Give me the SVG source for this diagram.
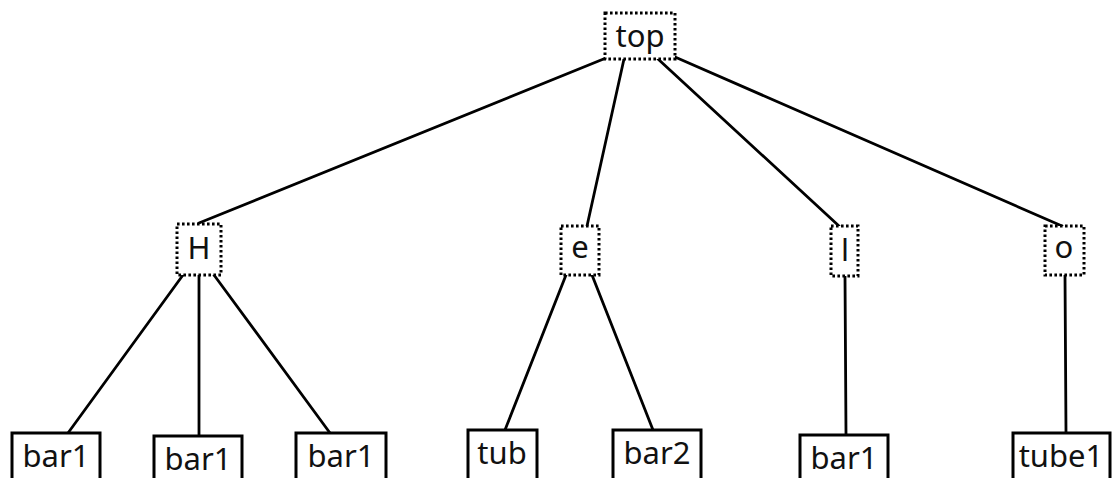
<svg xmlns="http://www.w3.org/2000/svg" width="1113" height="478" viewBox="0 0 1113 478">
  <style>
    .inner { fill: #fff; stroke: #000; stroke-width: 3; stroke-dasharray: 2.6 2.4; }
    .leaf { fill: #fff; stroke: #000; stroke-width: 3; }
    .lbl { font-family: "Noto Sans", "Liberation Sans", sans-serif; font-size: 31px; fill: #111; text-anchor: middle; }
    #edges line { stroke: #000; stroke-width: 2.8; stroke-linecap: round; }
  </style>
  <rect width="1113" height="478" fill="#fff"/>

  <g id="edges">
    <line x1="606" y1="58" x2="199" y2="223"/>
    <line x1="624" y1="59" x2="587" y2="226"/>
    <line x1="658" y1="59" x2="839" y2="226"/>
    <line x1="675" y1="57" x2="1062" y2="226"/>
    <line x1="183" y1="275" x2="68" y2="433"/>
    <line x1="199" y1="275" x2="199" y2="436"/>
    <line x1="214" y1="275" x2="330" y2="433"/>
    <line x1="566" y1="275" x2="505" y2="430"/>
    <line x1="592" y1="275" x2="653" y2="430"/>
    <line x1="845" y1="276" x2="846" y2="435"/>
    <line x1="1065" y1="275" x2="1066" y2="433"/>
  </g>

  <g id="n-top">
    <rect class="inner" x="605" y="13" width="70" height="46"/>
    <text class="lbl" x="640" y="47">top</text>
  </g>
  <g id="n-H">
    <rect class="inner" x="177" y="224" width="44" height="51"/>
    <text class="lbl" x="199" y="259">H</text>
  </g>
  <g id="n-e">
    <rect class="inner" x="561" y="226" width="38" height="49"/>
    <text class="lbl" x="580" y="258">e</text>
  </g>
  <g id="n-l">
    <rect class="inner" x="831" y="226" width="27" height="50"/>
    <text class="lbl" x="845" y="261">l</text>
  </g>
  <g id="n-o">
    <rect class="inner" x="1045" y="226" width="39" height="49"/>
    <text class="lbl" x="1064" y="258">o</text>
  </g>

  <g id="n-bar1-a">
    <rect class="leaf" x="12" y="433" width="88" height="50"/>
    <text class="lbl" x="56" y="467">bar1</text>
  </g>
  <g id="n-bar1-b">
    <rect class="leaf" x="154" y="436" width="88" height="50"/>
    <text class="lbl" x="198" y="470">bar1</text>
  </g>
  <g id="n-bar1-c">
    <rect class="leaf" x="296" y="433" width="90" height="50"/>
    <text class="lbl" x="341" y="467">bar1</text>
  </g>
  <g id="n-tub">
    <rect class="leaf" x="468" y="430" width="69" height="50"/>
    <text class="lbl" x="502" y="464">tub</text>
  </g>
  <g id="n-bar2">
    <rect class="leaf" x="613" y="430" width="88" height="50"/>
    <text class="lbl" x="657" y="464">bar2</text>
  </g>
  <g id="n-bar1-d">
    <rect class="leaf" x="800" y="435" width="88" height="50"/>
    <text class="lbl" x="844" y="469">bar1</text>
  </g>
  <g id="n-tube1">
    <rect class="leaf" x="1013" y="433" width="97" height="50"/>
    <text class="lbl" x="1061" y="467">tube1</text>
  </g>
</svg>
